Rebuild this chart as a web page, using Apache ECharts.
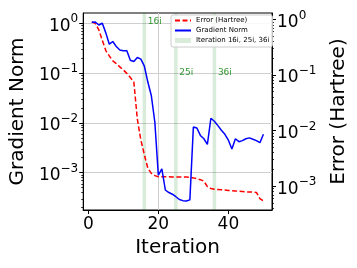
<!DOCTYPE html>
<html><head><meta charset="utf-8">
<script src="https://cdn.jsdelivr.net/npm/echarts@6/dist/echarts.min.js"></script>
<style>html,body{margin:0;padding:0;background:#fff}#c{width:357px;height:268px}</style>
</head><body><div id="c"></div>
<script>
const iterations = [];
for (let i = 1; i <= 50; i++) iterations.push(i);

const gradientNorm = [
  1.05, 1.06, 0.92, 1.0, 0.64, 0.38, 0.43, 0.34, 0.29, 0.28,
  0.28, 0.18, 0.17, 0.205, 0.19, 0.138, 0.066, 0.035, 0.0103, 0.00089,
  0.0012, 0.00045, 0.0004, 0.00037, 0.00033, 0.00029, 0.000275, 0.00027, 0.000285, 0.0083,
  0.0079, 0.0056, 0.0048, 0.0037, 0.0124, 0.0108, 0.0088, 0.0071, 0.0059, 0.0045,
  0.0030, 0.0048, 0.0042, 0.0044, 0.0048, 0.0050, 0.0047, 0.0044, 0.0040, 0.0059
];
const errorHartree = [
  0.90, 0.85, 0.65, 0.42, 0.275, 0.22, 0.18, 0.16, 0.14, 0.123,
  0.107, 0.09, 0.075, 0.016, 0.0068, 0.0037, 0.0021, 0.0017, 0.00155, 0.00148,
  0.00148, 0.00148, 0.00148, 0.00147, 0.00147, 0.00147, 0.00146, 0.00146, 0.00145, 0.00141,
  0.00136, 0.00131, 0.00123, 0.00098, 0.00091, 0.00088, 0.00087, 0.00086, 0.00085, 0.00084,
  0.00083, 0.00082, 0.00081, 0.00080, 0.00079, 0.00079, 0.00078, 0.00077, 0.00060, 0.00054
];
const bandIterations = [16, 25, 36];
const bandLabels = ['16i', '25i', '36i'];
const bandLabelX = [17, 26, 37];
const bandLabelY = [1.08, 0.1, 0.1];
const xTicks = [0, 20, 40];
const minorMantissas = [2, 3, 4, 5, 6, 7, 8, 9];

const leftMin = 1.786e-4, leftMax = 1.603;
const rightMin = 3.73e-4, rightMax = 1.304;

function minorTicks(lo, hi) {
  const out = [];
  for (let e = -5; e <= 1; e++) {
    minorMantissas.forEach(m => {
      const v = Math.log10(m) + e;
      if (v > Math.log10(lo) && v < Math.log10(hi)) out.push(v);
    });
  }
  return out;
}

const FONT = 'DejaVu Sans';
function logLabel(v) {
  const e = Math.round(Math.log10(v));
  return '{b|10}{s|' + (e < 0 ? '\u2212' + (-e) : String(e)) + '}';
}
const rich = {
  b: {fontSize: 17, fontFamily: FONT, color: '#000', padding: [6, 0, 0, 0]},
  s: {fontSize: 12, fontFamily: FONT, color: '#000', padding: [0, 0, 8, 0]}
};
const gridLine = {show: true, showMinLine: false, showMaxLine: false, lineStyle: {color: '#cfcfcf', width: 1}};

const chart = echarts.init(document.getElementById('c'), null, {renderer: 'canvas'});
chart.setOption({
  animation: false,
  backgroundColor: '#fff',
  grid: {left: 83, right: 83, top: 13, bottom: 58, show: true, borderColor: '#000', borderWidth: 1, backgroundColor: 'transparent'},
  legend: {
    orient: 'vertical', left: 171, top: 15, itemWidth: 16, itemHeight: 5, itemGap: 1,
    padding: [1, 3, 2, 3], backgroundColor: 'rgba(255,255,255,0.85)', borderColor: '#cccccc',
    borderWidth: 1, borderRadius: 2,
    textStyle: {fontSize: 7, fontFamily: FONT, color: '#000', lineHeight: 9},
    data: [
      {name: 'Error (Hartree)', itemStyle: {opacity: 0}},
      {name: 'Gradient Norm', itemStyle: {opacity: 0}},
      {name: 'Iteration 16i, 25i, 36i', icon: 'rect'}
    ]
  },
  xAxis: {
    type: 'value', min: -1.45, max: 52.45,
    axisLine: {show: true, onZero: false, lineStyle: {color: '#000', width: 1}},
    axisTick: {show: true, customValues: xTicks, length: 4, lineStyle: {color: '#000'}},
    axisLabel: {customValues: xTicks, fontSize: 17, fontFamily: FONT, color: '#000', margin: 6},
    splitLine: gridLine,
    name: 'Iteration', nameLocation: 'middle', nameGap: 25,
    nameTextStyle: {fontSize: 20, fontFamily: FONT, color: '#000'}
  },
  yAxis: [
    {
      type: 'log', logBase: 10, min: leftMin, max: leftMax, position: 'left',
      axisLine: {show: true, onZero: false, lineStyle: {color: '#000', width: 1}},
      axisTick: {show: true, length: 4, lineStyle: {color: '#000'}},
      axisLabel: {formatter: logLabel, rich: rich, showMinLabel: false, showMaxLabel: false, margin: 5},
      splitLine: gridLine,
      name: 'Gradient Norm', nameLocation: 'middle', nameGap: 54, nameRotate: 90,
      nameTextStyle: {fontSize: 20, fontFamily: FONT, color: '#000'}
    },
    {
      type: 'log', logBase: 10, min: rightMin, max: rightMax, position: 'right',
      axisLine: {show: true, onZero: false, lineStyle: {color: '#000', width: 1}},
      axisTick: {show: true, length: 4, lineStyle: {color: '#000'}},
      axisLabel: {formatter: logLabel, rich: rich, showMinLabel: false, showMaxLabel: false, margin: 5},
      splitLine: {show: false},
      name: 'Error (Hartree)', nameLocation: 'middle', nameGap: 57, nameRotate: 90,
      nameTextStyle: {fontSize: 20, fontFamily: FONT, color: '#000'}
    },
    {
      type: 'value', min: Math.log10(leftMin), max: Math.log10(leftMax), position: 'left',
      axisLine: {show: false, onZero: false}, axisLabel: {show: false}, splitLine: {show: false},
      axisTick: {show: true, customValues: minorTicks(leftMin, leftMax), length: 2, lineStyle: {color: '#000', width: 0.8}}
    },
    {
      type: 'value', min: Math.log10(rightMin), max: Math.log10(rightMax), position: 'right',
      axisLine: {show: false, onZero: false}, axisLabel: {show: false}, splitLine: {show: false},
      axisTick: {show: true, customValues: minorTicks(rightMin, rightMax), length: 2, lineStyle: {color: '#000', width: 0.8}}
    }
  ],
  series: [
    {
      name: 'Iteration 16i, 25i, 36i', type: 'line', data: [], yAxisIndex: 0,
      itemStyle: {color: '#d9ecd9'}, lineStyle: {color: '#d9ecd9'}, z: 1,
      markArea: {
        silent: true, itemStyle: {color: 'rgba(0,128,0,0.15)'},
        data: bandIterations.map(b => [{xAxis: b - 0.5}, {xAxis: b + 0.5}])
      }
    },
    {
      name: 'Error (Hartree)', type: 'line', yAxisIndex: 1, showSymbol: false, symbol: 'none',
      data: iterations.map((it, k) => [it, errorHartree[k]]),
      lineStyle: {color: '#ff0000', width: 1.5, type: [5, 2.5]}, itemStyle: {color: '#ff0000'}, z: 3
    },
    {
      name: 'Gradient Norm', type: 'line', yAxisIndex: 0, showSymbol: false, symbol: 'none',
      data: iterations.map((it, k) => [it, gradientNorm[k]]),
      lineStyle: {color: '#0000ff', width: 1.5}, itemStyle: {color: '#0000ff'}, z: 4
    },
    {
      name: 'band labels', type: 'scatter', yAxisIndex: 0, symbolSize: 0, silent: true,
      data: bandLabels.map((t, k) => ({value: [bandLabelX[k], bandLabelY[k]], label: {formatter: t}})),
      label: {show: true, position: 'right', distance: 0, color: '#008000', fontSize: 9, fontFamily: FONT},
      z: 5
    }
  ]
});
</script>
</body></html>
